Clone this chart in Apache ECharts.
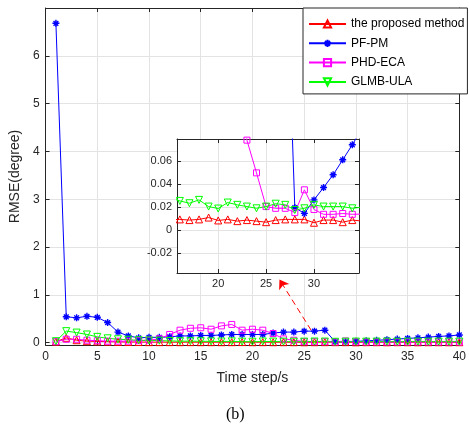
<!DOCTYPE html>
<html>
<head>
<meta charset="utf-8">
<script src="https://cdn.jsdelivr.net/npm/echarts@6/dist/echarts.min.js"></script>
<style>
html, body { margin: 0; padding: 0; background: #fff; }
#chart { width: 469px; height: 426px; }
</style>
</head>
<body>
<div id="chart"></div>
<script>
// time steps 1..40
var timeSteps = [1, 2, 3, 4, 5, 6, 7, 8, 9, 10, 11, 12, 13, 14, 15, 16, 17, 18, 19, 20,
                 21, 22, 23, 24, 25, 26, 27, 28, 29, 30, 31, 32, 33, 34, 35, 36, 37, 38, 39, 40];

var proposed = [0.02, 0.1, 0.05, 0.03, 0.025, 0.02, 0.015, 0.012, 0.012, 0.01,
                0.01, 0.01, 0.009, 0.01, 0.009, 0.0094, 0.0088, 0.0094, 0.011, 0.0085,
                0.0094, 0.0079, 0.0088, 0.0079, 0.007, 0.0088, 0.0094, 0.0094, 0.0094, 0.0065,
                0.0088, 0.0088, 0.007, 0.0088, 0.008, 0.007, 0.008, 0.008, 0.007, 0.008];

var pfpm = [6.68, 0.54, 0.52, 0.55, 0.53, 0.42, 0.22, 0.14, 0.1, 0.11,
            0.11, 0.12, 0.14, 0.14, 0.15, 0.15, 0.16, 0.17, 0.17, 0.17,
            0.17, 0.2, 0.22, 0.22, 0.24, 0.24, 0.26, 0.0196, 0.0146, 0.0263,
            0.037, 0.048, 0.061, 0.074, 0.088, 0.1, 0.115, 0.13, 0.14, 0.16];

var phdeca = [0.02, 0.07, 0.07, 0.05, 0.04, 0.03, 0.03, 0.03, 0.04, 0.05,
              0.08, 0.17, 0.26, 0.3, 0.31, 0.28, 0.35, 0.38, 0.26, 0.28,
              0.26, 0.19, 0.078, 0.0497, 0.0205, 0.019, 0.019, 0.0153, 0.035, 0.018,
              0.0138, 0.0138, 0.0145, 0.0138, 0.014, 0.014, 0.014, 0.014, 0.014, 0.014];

var glmbula = [0.03, 0.24, 0.21, 0.17, 0.12, 0.09, 0.07, 0.06, 0.05, 0.045,
               0.04, 0.035, 0.03, 0.03, 0.028, 0.0254, 0.0234, 0.0263, 0.0205, 0.0188,
               0.024, 0.022, 0.0205, 0.019, 0.0205, 0.023, 0.022, 0.0175, 0.019, 0.022,
               0.0205, 0.0205, 0.0205, 0.019, 0.02, 0.021, 0.02, 0.021, 0.02, 0.021];

var seriesNames = ['the proposed method', 'PF-PM', 'PHD-ECA', 'GLMB-ULA'];
var mainXTicks = [0, 5, 10, 15, 20, 25, 30, 35, 40];
var mainYTicks = [0, 1, 2, 3, 4, 5, 6];
var insetXTicks = [20, 25, 30];
var insetYTicks = [-0.02, 0, 0.02, 0.04, 0.06];
var arrowFrom = [25.67, 0.26];
var arrowTo = [22.61, 1.32];

var AX = '#262626';
var GRIDC = '#e3e3e3';
var starPath = 'path://M5,0L5,10M0,5L10,5M1.6,1.6L8.4,8.4M1.6,8.4L8.4,1.6';

function pairs(vals) {
    return timeSteps.map(function (t, i) { return [t, vals[i]]; });
}

function makeSeries(name, vals, color, symbol, rotate, size, idx, z) {
    var star = symbol === starPath;
    return {
        name: name,
        type: 'line',
        xAxisIndex: idx,
        yAxisIndex: idx,
        z: z,
        data: pairs(vals),
        symbol: symbol,
        symbolSize: size,
        symbolRotate: rotate,
        showAllSymbol: true,
        clip: true,
        lineStyle: { color: color, width: 1 },
        itemStyle: {
            color: star ? color : 'rgba(255,255,255,0)',
            borderColor: color,
            borderWidth: star ? 1.4 : 1
        },
        emphasis: { disabled: true }
    };
}

function axisOf(grid, min, max, ticks, pos, fs, showLabel, margin) {
    return {
        type: 'value', gridIndex: grid, min: min, max: max, position: pos,
        axisLine: { show: true, onZero: false, lineStyle: { color: AX, width: 1 } },
        axisTick: { show: true, inside: true, length: 4, customValues: ticks, lineStyle: { color: AX } },
        axisLabel: { show: showLabel, customValues: ticks, margin: margin, color: AX, fontSize: fs, fontFamily: 'Liberation Sans' },
        splitLine: { show: showLabel, lineStyle: { color: GRIDC, width: 1 } }
    };
}

var chart = echarts.init(document.getElementById('chart'));

var series = [
    makeSeries(seriesNames[0], proposed, '#ff0000', 'triangle', 0, 7, 0, 3),
    makeSeries(seriesNames[1], pfpm, '#0000ff', starPath, 0, 7, 0, 3),
    makeSeries(seriesNames[2], phdeca, '#ff00ff', 'rect', 0, 6, 0, 3),
    makeSeries(seriesNames[3], glmbula, '#00ff00', 'triangle', 180, 7, 0, 3),
    makeSeries(seriesNames[0], proposed, '#ff0000', 'triangle', 0, 7, 2, 8),
    makeSeries(seriesNames[1], pfpm, '#0000ff', starPath, 0, 7, 2, 8),
    makeSeries(seriesNames[2], phdeca, '#ff00ff', 'rect', 0, 6, 2, 8),
    makeSeries(seriesNames[3], glmbula, '#00ff00', 'triangle', 180, 7, 2, 8)
];

// red dashed arrow pointing to the zoomed box
series[0].markLine = {
    silent: true,
    symbol: ['none', 'arrow'],
    symbolSize: 9,
    label: { show: false },
    itemStyle: { color: '#ff0000' },
    lineStyle: { type: [6, 4], color: '#ff0000', width: 1 },
    emphasis: { disabled: true },
    data: [[{ coord: arrowFrom }, { coord: arrowTo }]]
};

var xMain = axisOf(0, 0, 40, mainXTicks, 'bottom', 12, true, 6);
xMain.name = 'Time step/s';
xMain.nameLocation = 'middle';
xMain.nameGap = 26;
xMain.nameTextStyle = { color: AX, fontSize: 14, fontFamily: 'Liberation Sans' };

var yMain = axisOf(0, -0.05, 7, mainYTicks, 'left', 12, true, 6);
yMain.name = 'RMSE(degree)';
yMain.nameLocation = 'middle';
yMain.nameGap = 19;
yMain.nameTextStyle = { color: AX, fontSize: 14, fontFamily: 'Liberation Sans' };

var insetAxes = [
    axisOf(1, 15.7, 34.7, insetXTicks, 'bottom', 11, true, 5),
    axisOf(1, -0.037, 0.079, insetYTicks, 'left', 11, true, 5),
    axisOf(1, 15.7, 34.7, insetXTicks, 'top', 11, false, 5),
    axisOf(1, -0.037, 0.079, insetYTicks, 'right', 11, false, 5)
];
insetAxes.forEach(function (a) { a.z = 6; });

chart.setOption({
    animation: false,
    backgroundColor: '#fff',
    grid: [
        { left: 39, top: 8, right: 3, bottom: 81, show: false },
        { left: 177, top: 139, width: 182, height: 134, show: true, z: 5,
          backgroundColor: '#fff', borderColor: AX, borderWidth: 0 }
    ],
    xAxis: [
        xMain,
        axisOf(0, 0, 40, mainXTicks, 'top', 12, false, 6),
        insetAxes[0],
        insetAxes[2]
    ],
    yAxis: [
        yMain,
        axisOf(0, -0.05, 7, mainYTicks, 'right', 12, false, 6),
        insetAxes[1],
        insetAxes[3]
    ],
    legend: {
        data: seriesNames,
        orient: 'vertical',
        left: 303,
        top: 8,
        padding: [10, 3, 6, 5],
        itemGap: 7.3,
        itemWidth: 37,
        itemHeight: 9,
        backgroundColor: '#fff',
        borderColor: AX,
        borderWidth: 1,
        borderRadius: 0,
        textStyle: { color: '#000', fontSize: 12, fontFamily: 'Liberation Sans' },
        z: 10
    },
    graphic: [{
        type: 'text',
        left: 226,
        top: 407,
        style: { text: '(b)', fill: '#000', font: '16px "Liberation Serif"' }
    }],
    series: series
});
</script>
</body>
</html>
